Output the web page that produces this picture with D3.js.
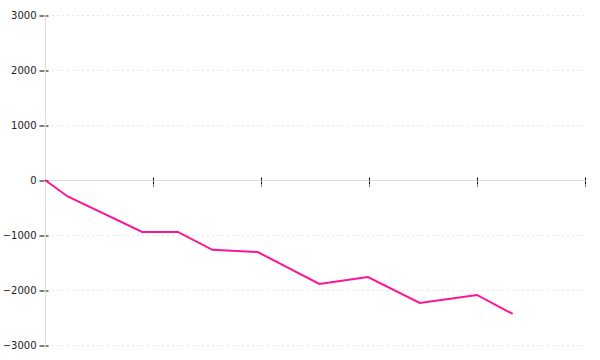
<!DOCTYPE html>
<html>
<head>
<meta charset="utf-8">
<script src="https://cdn.jsdelivr.net/npm/d3@7"></script>
<style>
  body { margin: 0; background: #fff; }
  svg text { font-family: "DejaVu Sans", Verdana, sans-serif; font-size: 10px; fill: #222; }
</style>
</head>
<body>
<div class="graphbox"></div>
<script>
// data (x in tick units, no labels on x axis)
var steps = [0, 0.21, 0.9, 1.23, 1.55, 1.97, 2.54, 2.99, 3.47, 4.0, 4.33]
var totals = [0, -300, -945, -945, -1270, -1310, -1890, -1765, -2235, -2090, -2435]
var yTicks = [-3000, -2000, -1000, 0, 1000, 2000, 3000]
var xTicks = [0, 1, 2, 3, 4, 5]

var svgWidth = 600;
var svgHeight = 360;

var x = d3.scaleLinear().domain([0, 5]).range([45, 585]);
var y = d3.scaleLinear().domain([-3000, 3000]).range([345, 15]);

var mysvg = d3.select(".graphbox")
  .append("svg")
  .attr("width", svgWidth)
  .attr("height", svgHeight)
 ;

// dotted grid
mysvg.append("g").selectAll("line")
  .data(yTicks.filter(function(d) { return d !== 0; }))
  .enter()
  .append("line")
  .attr("x1", 52)
  .attr("x2", 585)
  .attr("y1", function(d) { return y(d) + 0.5; })
  .attr("y2", function(d) { return y(d) + 0.5; })
  .attr("stroke", "#e6e6e6")
  .attr("stroke-dasharray", "2,3")
 ;

// y axis
var yAxis = mysvg.append("g")
  .attr("transform", "translate(45.5,0.5)")
  .call(d3.axisLeft(y).tickValues(yTicks).tickSize(6).tickPadding(3).tickFormat(d3.format("d")));
yAxis.select(".domain").remove();
yAxis.selectAll(".tick line")
  .attr("x1", -6).attr("x2", 3)
  .attr("stroke", "#000")
  .attr("stroke-dasharray", "5,1");
mysvg.append("line")
  .attr("x1", 45.5).attr("x2", 45.5)
  .attr("y1", y(3000)).attr("y2", y(-3000))
  .attr("stroke", "#ddd");

// x axis at zero
var xAxis = mysvg.append("g")
  .attr("transform", "translate(0," + (y(0) + 0.5) + ")")
  .call(d3.axisBottom(x).tickValues(xTicks).tickSize(6).tickFormat(""));
xAxis.select(".domain").attr("stroke", "#ddd").attr("d", "M45,0H585");
xAxis.selectAll(".tick line")
  .attr("y1", -3).attr("y2", 6)
  .attr("stroke", "#000")
  .attr("stroke-dasharray", "3,1");
xAxis.lower();

var line = d3.line()
  .x(function(d, i) { return x(steps[i]); })
  .y(function(d) { return y(d); });

mysvg.append("path")
  .datum(totals)
  .attr("d", line)
  .attr("fill", "none")
  .attr("stroke", "#ff1493")
  .attr("stroke-width", 2)
 ;
</script>
</body>
</html>
